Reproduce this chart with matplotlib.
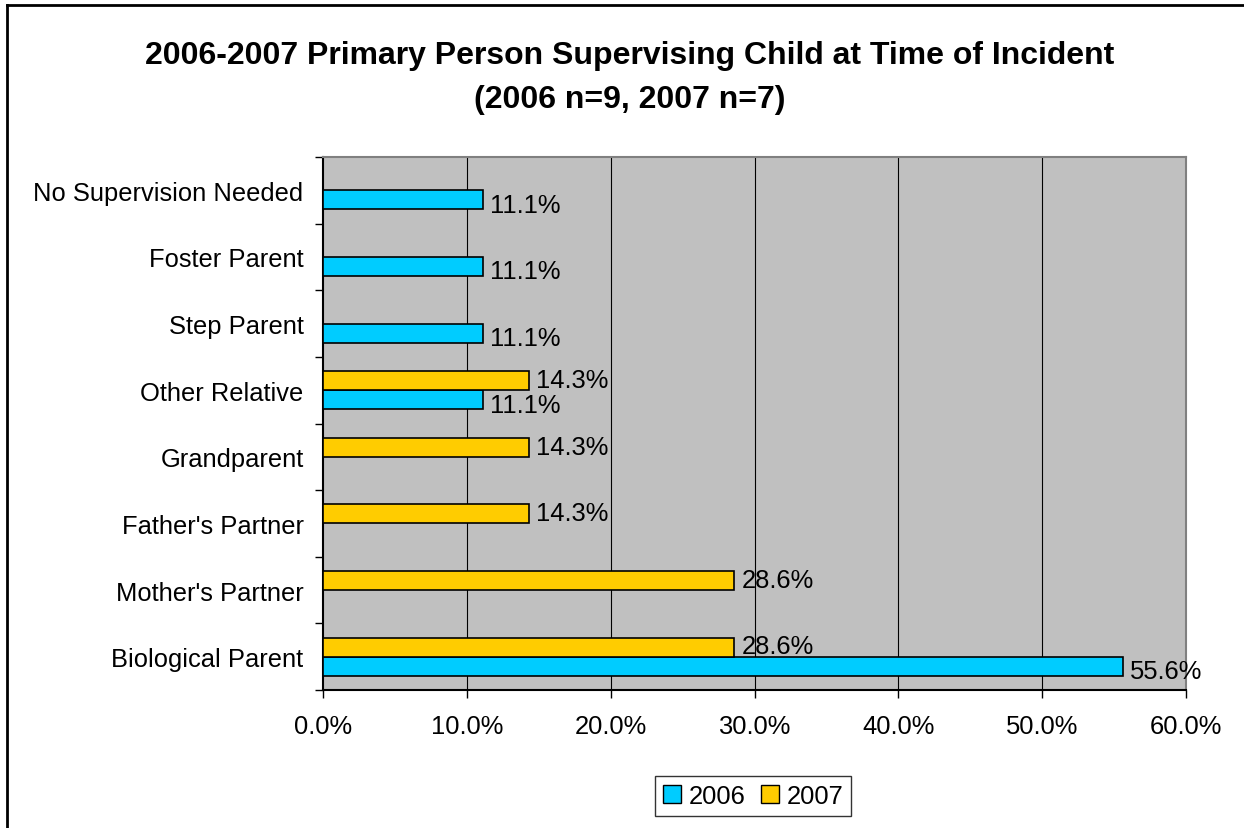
import numpy as np
import matplotlib.pyplot as plt
from matplotlib.lines import Line2D
from matplotlib.patches import Patch

plt.rcParams['font.family'] = ['Liberation Sans', 'DejaVu Sans']

# categories listed bottom -> top
categories = ['Biological Parent', "Mother's Partner", "Father's Partner",
              'Grandparent', 'Other Relative', 'Step Parent',
              'Foster Parent', 'No Supervision Needed']
vals_2006 = [55.6, 0, 0, 0, 11.1, 11.1, 11.1, 11.1]
vals_2007 = [28.6, 28.6, 14.3, 14.3, 14.3, 0, 0, 0]
x_ticks = [0, 10, 20, 30, 40, 50, 60]

c2006 = '#00CCFF'
c2007 = '#FFCC00'
fs = 18.4

fig = plt.figure(figsize=(12.44, 8.29), dpi=100)
ax = fig.add_axes([323 / 1244, 1 - 691 / 829, 863 / 1244, 533 / 829])
ax.set_facecolor('#C0C0C0')

y = np.arange(len(categories)) + 0.5
h = 0.286
ax.barh(y - h / 2, vals_2006, height=h, color=c2006, edgecolor='black', lw=1.2, zorder=3)
ax.barh(y + h / 2, vals_2007, height=h, color=c2007, edgecolor='black', lw=1.2, zorder=3)

# data labels
for yi, v in zip(y, vals_2006):
    if v > 0:
        ax.annotate('%.1f%%' % v, (v, yi - h / 2), xytext=(5, -3.5), textcoords='offset points',
                    va='center', ha='left', fontsize=fs, zorder=4)
for yi, v in zip(y, vals_2007):
    if v > 0:
        ax.annotate('%.1f%%' % v, (v, yi + h / 2), xytext=(5, 0.5), textcoords='offset points',
                    va='center', ha='left', fontsize=fs, zorder=4)

ax.set_xlim(0, 60)
ax.set_ylim(0, len(categories))
ax.set_xticks(x_ticks)
ax.set_xticklabels(['%.1f%%' % t for t in x_ticks], fontsize=fs)
ax.tick_params(axis='x', direction='out', length=6, width=1, pad=11)

ax.set_yticks(y)
ax.set_yticklabels(categories, fontsize=fs)
ax.tick_params(axis='y', which='major', length=0, pad=14)
ax.set_yticks(np.arange(len(categories) + 1), minor=True)
ax.tick_params(axis='y', which='minor', direction='out', length=6, width=1)

for gx in x_ticks[1:-1]:
    ax.axvline(gx, color='black', lw=0.8, zorder=1)

ax.spines['left'].set_color('black')
ax.spines['bottom'].set_color('black')
ax.spines['top'].set_color('#808080')
ax.spines['right'].set_color('#808080')
for s in ax.spines.values():
    s.set_linewidth(1.5)

fig.text(0.506, 1 - 78 / 829,
         '2006-2007 Primary Person Supervising Child at Time of Incident\n(2006 n=9, 2007 n=7)',
         ha='center', va='center', fontsize=23, fontweight='bold', linespacing=1.65)

handles = [Patch(facecolor=c2006, edgecolor='black', label='2006'),
           Patch(facecolor=c2007, edgecolor='black', label='2007')]
leg = fig.legend(handles=handles, loc='center', bbox_to_anchor=(753 / 1244, 1 - 797 / 829),
                 ncol=2, fontsize=fs, frameon=True, fancybox=False, handlelength=0.7,
                 handleheight=0.7, handletextpad=0.3, columnspacing=0.6, borderpad=0.3)
leg.get_frame().set_edgecolor('black')
leg.get_frame().set_linewidth(1)

# outer chart border (top and left visible)
fig.add_artist(Line2D([7 / 1244, 1], [1 - 6 / 829, 1 - 6 / 829], color='black', lw=2,
                      transform=fig.transFigure))
fig.add_artist(Line2D([7.5 / 1244, 7.5 / 1244], [0, 1 - 6 / 829], color='black', lw=2,
                      transform=fig.transFigure))

fig.savefig('out.png', dpi=100)
